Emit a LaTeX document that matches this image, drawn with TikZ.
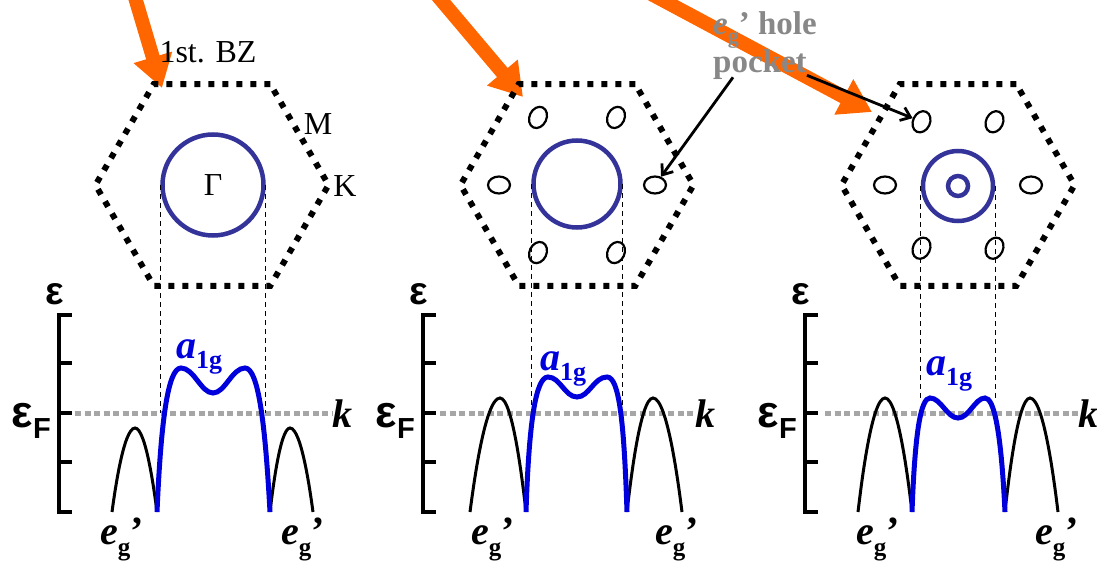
\documentclass[tikz,border=0pt]{standalone}
\usepackage{fontspec}
\setmainfont{Liberation Serif}
\newfontfamily\arialfont{Liberation Sans}
\usetikzlibrary{arrows.meta,calc,shapes.geometric}
\definecolor{fsblue}{HTML}{333399}
\definecolor{bandblue}{HTML}{0000DD}
\definecolor{hintorange}{HTML}{FF6600}
\definecolor{fermigrey}{HTML}{A6A6A6}
\definecolor{labelgrey}{HTML}{888888}
\newcommand{\egp}{\textit{e}\raisebox{-11pt}{\fontsize{25}{25}\selectfont g}’}
\newcommand{\egh}{\textit{e}\raisebox{-9pt}{\fontsize{22}{22}\selectfont g}’}
\newcommand{\aog}{\textit{a}\raisebox{-10pt}{\fontsize{26}{26}\selectfont 1g}}
\newcommand{\epsF}{{\fontsize{45}{45}\selectfont ε}\raisebox{-11pt}{\fontsize{29}{29}\selectfont F}}
\tikzset{
  hint/.style={-{Triangle[length=32pt,width=38pt]},line width=14pt,draw=hintorange},
  pointer/.style={-{Straight Barb[length=9pt,width=14pt]},line width=2.8pt},
  bzone/.style={regular polygon,regular polygon sides=6,minimum size=233pt,inner sep=0pt,
                draw,line width=6pt,dash pattern=on 6pt off 8pt},
  fsurf/.style={circle,draw=fsblue,line width=4.5pt,inner sep=0pt,font=\fontsize{32}{32}\selectfont},
  pocket/.style={ellipse,draw,line width=2.2pt,minimum width=22pt,minimum height=17pt,inner sep=0pt},
  guide/.style={line width=1.4pt,dash pattern=on 5pt off 4pt},
  fermi/.style={line width=5pt,draw=fermigrey,dash pattern=on 6pt off 3.5pt},
  ebar/.style={line width=4.5pt},
  band/.style={line width=5pt,draw=bandblue},
  egband/.style={line width=3pt},
  sym/.style={font=\fontsize{32}{32}\selectfont,inner sep=0pt},
  bandlbl/.style={font=\fontsize{40}{40}\selectfont\bfseries,inner sep=0pt},
  axlbl/.style={font=\arialfont\bfseries,inner sep=0pt}
}

\begin{document}
\begin{tikzpicture}[x=1pt,y=-1pt]
  \useasboundingbox (0,0) rectangle (1097,561);
  % orange pointers onto the zones
  \coordinate (src1) at (134,-6);  \coordinate (tip1) at (162,88);
  \coordinate (src2) at (436,-6);  \coordinate (tip2) at (523,97);
  \coordinate (src3) at (640,-12); \coordinate (tip3) at (872,112);
  \draw[hint] (src1) -- (tip1);
  \draw[hint] (src2) -- (tip2);
  \draw[hint] (src3) -- (tip3);

  % Brillouin zones and Fermi surfaces
  \node[bzone] (bz1) at (212,185) {};
  \node[bzone] (bz2) at (577,185) {};
  \node[bzone] (bz3) at (958,185) {};
  \node[fsurf,minimum size=101pt] (fs1) at (213,185) {Γ};
  \node[fsurf,minimum size=87pt] (fs2) at (577,184) {};
  \node[fsurf,minimum size=70pt] (fs3) at (958,186) {};
  \node[fsurf,minimum size=20pt] (fs3i) at (958,186) {};
  \foreach \a/\n/\r in {0/e/0,60/ne/65,120/nw/65,180/w/0,240/sw/65,300/se/65}{
    \node[pocket,rotate=\r] (p2\n) at ($(bz2)+({78*cos(\a)},{-78*sin(\a)})$) {};
    \node[pocket,rotate=\r] (p3\n) at ($(bz3)+({73*cos(\a)},{-73*sin(\a)})$) {};
  }
  \node[sym,anchor=base] (bzname) at (208,63) {1st. BZ};
  \node[sym,anchor=base] (mpt) at (318,135) {M};
  \node[sym,anchor=base] (kpt) at (345,197) {K};

  \node[font=\fontsize{33}{38}\selectfont\bfseries,text=labelgrey,align=left,inner sep=0pt,
        anchor=north west] (holelbl) at (713,11) {\egh\ hole\\pocket};
  \draw[pointer] ($(holelbl.south west)+(20,-2)$) -- (p2e);
  \draw[pointer] ($(holelbl.south east)+(-10,-4)$) -- (p3nw);

  % energy axes
  \foreach \x in {59,423,805}{
    \draw[ebar] (\x+13,315) -| (\x,512) -- (\x+13,512);
    \foreach \y in {363,413,462} \draw[ebar] (\x,\y) -- (\x+13,\y);
    \node[axlbl,anchor=base,font=\arialfont\bfseries\fontsize{39}{39}\selectfont] at (\x-4,305) {ε};
    \node[axlbl,anchor=base east] at (\x-8,427) {\epsF};
  }
  \coordinate (ef1) at (75,413);
  \coordinate (ef2) at (440,413);
  \coordinate (ef3) at (825,413);
  \node[bandlbl,anchor=base west] (k1) at (332,427) {\textit{k}};
  \node[bandlbl,anchor=base west] (k2) at (695,427) {\textit{k}};
  \node[bandlbl,anchor=base west] (k3) at (1078,427) {\textit{k}};
  \draw[fermi] (ef1) -- (ef1 -| k1.west);
  \draw[fermi] (ef2) -- (ef2 -| k2.west);
  \draw[fermi] (ef3) -- (ef3 -| k3.west);

  \draw[guide] (fs1.west) -- (fs1.west |- ef1);
  \draw[guide] (fs1.east) -- (fs1.east |- ef1);
  \draw[guide] (fs2.west) -- (fs2.west |- ef2);
  \draw[guide] (fs2.east) -- (fs2.east |- ef2);
  \draw[guide] (fs3.west) -- ++(0,214);
  \draw[guide] (fs3.east) -- ++(0,214);

  % bands
  \draw[egband] (112,512) parabola bend (135,428) (157,512);
  \draw[egband] (270,512) parabola bend (290,428) (313,512);
  \draw[band] (157,512) .. controls (161,420) and (168,368) .. (181,368)
    .. controls (194,368) and (201,393) .. (213,393)
    .. controls (225,393) and (232,368) .. (245,368)
    .. controls (258,368) and (265,420) .. (270,512);
  \draw[egband] (470,512) parabola bend (500,398) (526,512);
  \draw[egband] (627,512) parabola bend (653,398) (682,512);
  \draw[band] (526,512) .. controls (529,420) and (536,377) .. (548,377)
    .. controls (560,377) and (565,397) .. (577,397)
    .. controls (589,397) and (594,377) .. (607,377)
    .. controls (619,377) and (624,420) .. (627,512);
  \draw[egband] (858,512) parabola bend (885,398) (912,512);
  \draw[egband] (1005,512) parabola bend (1030,398) (1058,512);
  \draw[band] (912,512) .. controls (915,430) and (921,398) .. (930,398)
    .. controls (941,398) and (947,418) .. (958,418)
    .. controls (969,418) and (975,398) .. (985,398)
    .. controls (994,398) and (1001,430) .. (1005,512);

  \node[bandlbl,text=bandblue,anchor=base west] (a1) at (176,358) {\aog};
  \node[bandlbl,text=bandblue,anchor=base west] (a2) at (540,370) {\aog};
  \node[bandlbl,text=bandblue,anchor=base west] (a3) at (926,375) {\aog};
  \node[bandlbl,anchor=base west] (e1l) at (100,544) {\egp};
  \node[bandlbl,anchor=base west] (e1r) at (281,544) {\egp};
  \node[bandlbl,anchor=base west] (e2l) at (471,544) {\egp};
  \node[bandlbl,anchor=base west] (e2r) at (655,544) {\egp};
  \node[bandlbl,anchor=base west] (e3l) at (856,544) {\egp};
  \node[bandlbl,anchor=base west] (e3r) at (1035,544) {\egp};
\end{tikzpicture}
\end{document}
